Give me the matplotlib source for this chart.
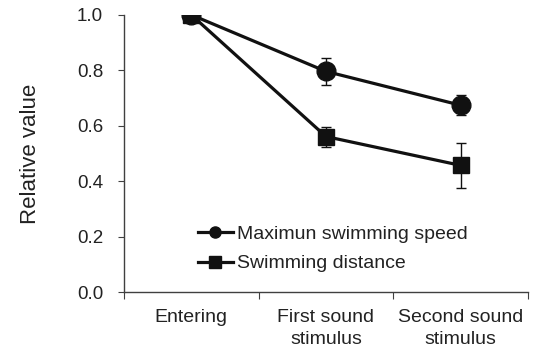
import matplotlib
matplotlib.use("Agg")
import matplotlib.pyplot as plt
from matplotlib.ticker import FixedLocator, NullFormatter
from matplotlib.lines import Line2D

plt.rcParams['font.family'] = ['Liberation Sans', 'DejaVu Sans']

categories = ["Entering", "First sound\nstimulus", "Second sound\nstimulus"]
speed = [1.0, 0.796, 0.674]
speed_err = [0.0, 0.05, 0.036]
distance = [1.0, 0.561, 0.457]
distance_err = [0.0, 0.036, 0.082]
yticks = [0.0, 0.2, 0.4, 0.6, 0.8, 1.0]

fig = plt.figure(figsize=(5.33, 3.54), dpi=100)
ax = fig.add_axes([0.2326, 0.175, 0.758, 0.783])

x = [i + 0.5 for i in range(len(categories))]
ax.errorbar(x, speed, yerr=speed_err, color='#111111', lw=2.3, marker='o',
            ms=13.5, capsize=3.5, elinewidth=1.0, capthick=1.0)
ax.errorbar(x, distance, yerr=distance_err, color='#111111', lw=2.3, marker='s',
            ms=12, capsize=3.5, elinewidth=1.0, capthick=1.0)

ax.set_xlim(0, 3)
ax.set_ylim(0, 1.0)
ax.set_yticks(yticks)
ax.set_yticklabels([f"{v:.1f}" for v in yticks])
ax.xaxis.set_major_locator(FixedLocator([0, 1, 2, 3]))
ax.xaxis.set_major_formatter(NullFormatter())
ax.xaxis.set_minor_locator(FixedLocator(x))
ax.set_xticklabels(categories, minor=True, linespacing=1.4)
ax.tick_params(axis='x', which='minor', length=0, pad=12, labelsize=14, colors='#222222')
ax.tick_params(axis='x', which='major', length=5, direction='out', color='#404040')
ax.tick_params(axis='y', length=4, direction='out', color='#404040', labelsize=13.5,
               labelcolor='#222222', pad=11)
for s in ['top', 'right']:
    ax.spines[s].set_visible(False)
for s in ['left', 'bottom']:
    ax.spines[s].set_color('#404040')
    ax.spines[s].set_linewidth(1.0)

ax.set_ylabel('Relative value', fontsize=16, color='#222222', labelpad=26)

handles = [Line2D([], [], color='#111111', lw=2.3, marker='o', ms=8),
           Line2D([], [], color='#111111', lw=2.3, marker='s', ms=8)]
labels = ['Maximun swimming speed', 'Swimming distance']
leg = ax.legend(handles, labels, loc='lower left', bbox_to_anchor=(0.183, 0.071),
                frameon=False, fontsize=14, handlelength=1.8, handletextpad=0.2,
                labelspacing=0.6, borderaxespad=0, borderpad=0)
for t in leg.get_texts():
    t.set_color('#222222')

fig.savefig('out.png', dpi=100)
